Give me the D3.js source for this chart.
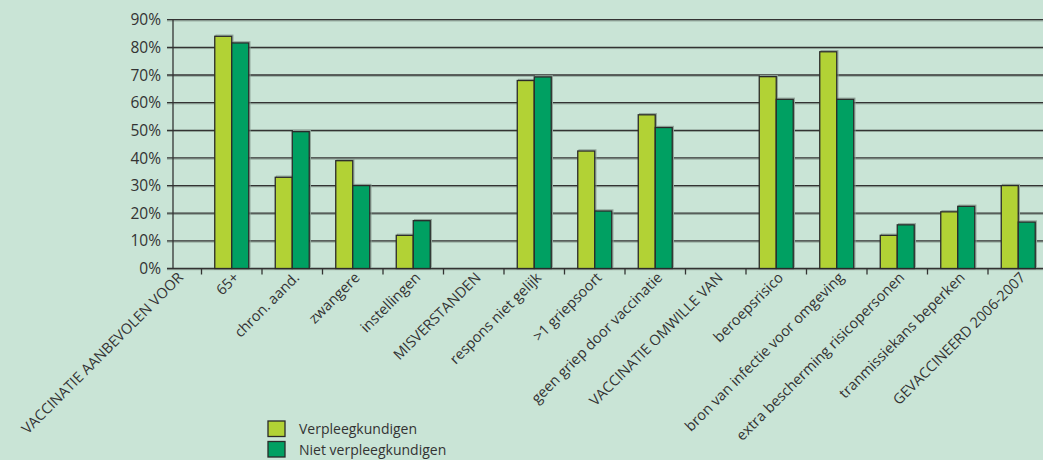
<!DOCTYPE html>
<html>
<head>
<meta charset="utf-8">
<script src="https://cdn.jsdelivr.net/npm/d3@7/dist/d3.min.js"></script>
<style>
  html, body { margin: 0; padding: 0; background: #c9e4d6; }
  svg { display: block; }
  text { font-family: "Open Sans", sans-serif; fill: #333; }
</style>
</head>
<body>
<svg id="chart" width="1043" height="460"></svg>
<script>
// categories along the x axis (capitals are the group headers, no bars)
const categories = [
    "VACCINATIE AANBEVOLEN VOOR", "65+", "chron. aand.", "zwangere", "instellingen",
    "MISVERSTANDEN", "respons niet gelijk", ">1 griepsoort", "geen griep door vaccinatie",
    "VACCINATIE OMWILLE VAN", "beroepsrisico", "bron van infectie voor omgeving",
    "extra bescherming risicopersonen", "tranmissiekans beperken", "GEVACCINEERD 2006-2007"
];
const series = ["Verpleegkundigen", "Niet verpleegkundigen"];
const verpleegkundigen = [null, 84, 33, 39, 12, null, 68, 42.5, 55.6, null, 69.4, 78.4, 12, 20.5, 30];
const nietVerpleegkundigen = [null, 81.6, 49.5, 30, 17.3, null, 69.3, 20.8, 51, null, 61.2, 61.2, 15.8, 22.5, 16.8];
const yTicks = [0, 10, 20, 30, 40, 50, 60, 70, 80, 90];
const colors = ["#b2d235", "#00a062"];

const svg = d3.select('#chart');
const axisX = 173;
const plotRight = 1043;

const x = d3.scaleBand()
    .domain(categories)
    .range([141, 1048.5]);

const x1 = d3.scaleBand()
    .domain(series)
    .range([-17, 17]);

const y = d3.scaleLinear()
    .domain([0, 90])
    .range([268.5, 19.7]);

// gridlines (with a soft shadow like the original)
const grid = svg.append('g');
grid.selectAll('line.shadow')
    .data(yTicks)
    .join('line')
    .attr('class', 'shadow')
    .attr('x1', axisX - 6)
    .attr('x2', plotRight)
    .attr('y1', d => y(d) + 1.2)
    .attr('y2', d => y(d) + 1.2)
    .attr('stroke', '#8fa398')
    .attr('stroke-width', 1);
grid.selectAll('line.main')
    .data(yTicks)
    .join('line')
    .attr('class', 'main')
    .attr('x1', axisX - 6)
    .attr('x2', plotRight)
    .attr('y1', d => y(d))
    .attr('y2', d => y(d))
    .attr('stroke', '#333')
    .attr('stroke-width', 1.3);

// y tick labels
svg.append('g')
    .selectAll('text')
    .data(yTicks)
    .join('text')
    .attr('x', 161)
    .attr('y', d => y(d))
    .attr('dy', '0.36em')
    .attr('text-anchor', 'end')
    .attr('font-size', 15.5)
    .text(d => d + '%');

// y axis line
svg.append('line')
    .attr('x1', axisX).attr('x2', axisX)
    .attr('y1', y(90)).attr('y2', y(0))
    .attr('stroke', '#333').attr('stroke-width', 1.3);

// bars
const rows = categories.map((c, i) => ({cat: c, values: [verpleegkundigen[i], nietVerpleegkundigen[i]]}));

const groups = svg.append('g')
    .selectAll('g')
    .data(rows)
    .join('g')
    .attr('transform', d => `translate(${x(d.cat) + x.bandwidth() / 2},0)`);

const barData = d => d.values.map((v, j) => ({s: series[j], v: v, j: j})).filter(e => e.v !== null);

groups.selectAll('rect.shadow')
    .data(barData)
    .join('rect')
    .attr('class', 'shadow')
    .attr('x', d => x1(d.s) + 1.2)
    .attr('width', x1.bandwidth())
    .attr('y', d => y(d.v) - 1.2)
    .attr('height', d => y(0) - y(d.v))
    .attr('fill', 'none')
    .attr('stroke', '#8fa398')
    .attr('stroke-width', 1);

groups.selectAll('rect.bar')
    .data(barData)
    .join('rect')
    .attr('class', 'bar')
    .attr('x', d => x1(d.s))
    .attr('width', x1.bandwidth())
    .attr('y', d => y(d.v))
    .attr('height', d => y(0) - y(d.v))
    .attr('fill', d => colors[d.j])
    .attr('stroke', '#2a2a2a')
    .attr('stroke-width', 1.3);

// x ticks at category boundaries
svg.append('g')
    .selectAll('line')
    .data(categories.slice(1))
    .join('line')
    .attr('x1', d => x(d))
    .attr('x2', d => x(d))
    .attr('y1', y(0))
    .attr('y2', y(0) + 6)
    .attr('stroke', '#333')
    .attr('stroke-width', 1.3);

// x labels, end anchored under the (visible) category centre
const labelX = d => Math.max(x(d) + x.bandwidth() / 2, axisX + 3);
svg.append('g')
    .selectAll('text')
    .data(categories)
    .join('text')
    .attr('transform', d => `translate(${labelX(d) + 8},${y(0) + 10}) rotate(-45)`)
    .attr('text-anchor', 'end')
    .attr('font-size', 14.5)
    .text(d => d);

// legend
const legend = svg.append('g')
    .selectAll('g')
    .data(series)
    .join('g')
    .attr('transform', (d, i) => `translate(268,${421 + i * 20.5})`);

legend.append('rect')
    .attr('width', 17)
    .attr('height', 15.5)
    .attr('fill', (d, i) => colors[i])
    .attr('stroke', '#2a2a2a')
    .attr('stroke-width', 1.3);

legend.append('text')
    .attr('x', 31)
    .attr('y', 8)
    .attr('dy', '0.36em')
    .attr('font-size', 14)
    .text(d => d);
</script>
</body>
</html>
